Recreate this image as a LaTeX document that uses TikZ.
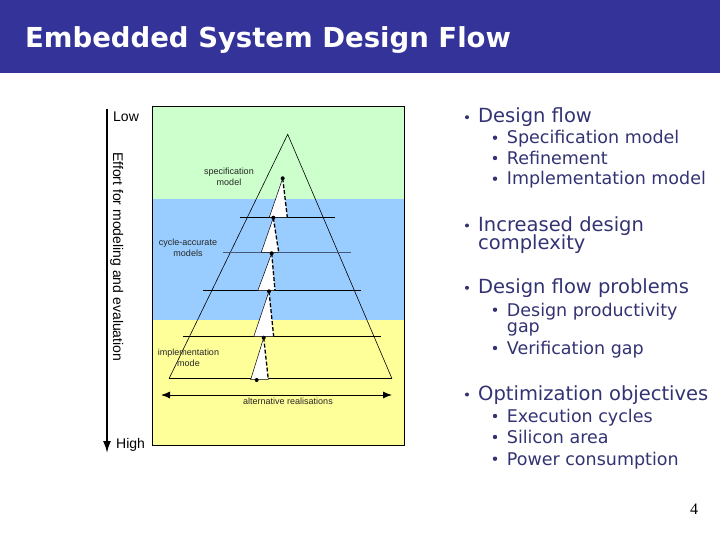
\documentclass[tikz,border=0pt]{standalone}
\usepackage{fontspec}
\setmainfont{DejaVu Sans}
\newfontfamily\arialf{Liberation Sans}
\newfontfamily\timesf{Liberation Serif}
\usetikzlibrary{arrows.meta}
\definecolor{hdr}{RGB}{51,51,153}
\definecolor{txt}{RGB}{51,51,115}
\definecolor{pgreen}{RGB}{204,255,204}
\definecolor{pblue}{RGB}{153,204,255}
\definecolor{pyellow}{RGB}{255,255,153}
\definecolor{lgray}{RGB}{70,90,120}
\begin{document}
\begin{tikzpicture}[x=1pt,y=-1pt,
  lone/.style={anchor=base west, inner sep=0pt, text=txt, font=\fontsize{19.5}{19}\selectfont},
  ltwo/.style={anchor=base west, inner sep=0pt, text=txt, font=\fontsize{17.5}{18}\selectfont},
  bone/.style={fill=txt, draw=none},
  small/.style={inner sep=0pt, font=\arialf\fontsize{9}{11}\selectfont, align=center, text=black!85},
  axislbl/.style={inner sep=0pt, font=\arialf\fontsize{14}{14}\selectfont},
  pyr/.style={draw=black, line width=0.6pt},
  hline/.style={draw=black, line width=0.9pt},
  tri/.style={fill=white, draw=none},
  tleft/.style={draw=black, line width=0.5pt},
  tright/.style={draw=black, line width=1.3pt, dash pattern=on 4pt off 2pt},
  dotf/.style={fill=black}
]
\useasboundingbox (0,0) rectangle (720,540);
\fill[white] (0,0) rectangle (720,540);
% header
\fill[hdr] (0,0) rectangle (720,73);
\node[anchor=base west, inner sep=0pt, text=white, font=\bfseries\fontsize{27.5}{30}\selectfont] (title) at (25,48) {Embedded System Design Flow};

% panels
\fill[pgreen] (152,107) rectangle (404,199.5);
\fill[pblue] (152,199.5) rectangle (404,320);
\fill[pyellow] (152,320) rectangle (404,445);
\draw[black, line width=1pt] (152,107) rectangle (404,445);

% pyramid
\coordinate (apex) at (287.7,134.3);
\coordinate (bl) at (169,378.7);
\coordinate (br) at (392,378.7);
\draw[pyr] (bl) -- (apex) -- (br);
\coordinate (h1a) at (240,217.3); \coordinate (h1b) at (335,217.3);
\coordinate (h2a) at (223,252.3); \coordinate (h2b) at (351,252.3);
\coordinate (h3a) at (203,290.7); \coordinate (h3b) at (361,290.7);
\coordinate (h4a) at (183,336.7); \coordinate (h4b) at (381,336.7);
\draw[hline] (h1a) -- (h1b);
\draw[draw=lgray, line width=0.6pt] (h2a) -- (h2b);
\draw[hline] (h3a) -- (h3b);
\draw[hline] (h4a) -- (h4b);
\draw[hline] (bl) -- (br);

% refinement triangles
\coordinate (d1) at (282.7,178.3);
\coordinate (d2) at (273.3,217.7);
\coordinate (d3) at (271.7,253.3);
\coordinate (d4) at (269,291.3);
\coordinate (d5) at (263.7,337.7);
\coordinate (d6) at (256.7,380);
\coordinate (t1l) at (269.3,217.3); \coordinate (t1r) at (287.3,217.3);
\coordinate (t2l) at (261.3,252.3); \coordinate (t2r) at (278.7,252.3);
\coordinate (t3l) at (257.7,290.7); \coordinate (t3r) at (275,290.7);
\coordinate (t4l) at (253.7,336.7); \coordinate (t4r) at (273.7,336.7);
\coordinate (t5l) at (250.7,379.5); \coordinate (t5r) at (268.3,379.5);
\foreach \d/\l/\r in {d1/t1l/t1r, d2/t2l/t2r, d3/t3l/t3r, d4/t4l/t4r, d5/t5l/t5r}{
  \fill[tri] (\d) -- (\l) -- (\r) -- cycle;
  \draw[tleft] (\d) -- (\l) -- (\r);
  \draw[tright] (\d) -- (\r);
}
\foreach \d in {d1,d2,d3,d4,d5,d6}{\fill[dotf] (\d) circle (2);}

% labels in pyramid
\node[small] (lspec) at (229,176.5) {specification\\model};
\node[small] (lcyc) at (188,247.5) {cycle-accurate\\models};
\node[small] (limp) at (188.5,357.5) {implementation\\mode};

% alternative realisations arrow
\coordinate (aL) at (161,395);
\coordinate (aR) at (392,395);
\draw[line width=1pt, {Latex[length=9pt,width=7pt]}-{Latex[length=9pt,width=7pt]}] (aL) -- (aR);
\node[small] (lalt) at (288,401) {alternative realisations};

% left axis
\coordinate (axT) at (107,109);
\coordinate (axB) at (107,453);
\draw[line width=1.8pt, -{Latex[length=12pt,width=8pt]}] (axT) -- (axB);
\node[axislbl, anchor=base west] (low) at (113,122) {Low};
\node[axislbl, anchor=base west] (high) at (116,448) {High};
\node[axislbl, anchor=base west, rotate=-90] (effort) at (113,152) {Effort for modeling and evaluation};

% right text
\foreach \y/\t in {122.7/Design flow, 231/Increased design, 293.3/Design flow problems, 400/Optimization objectives}{
  \node[lone] at (478,\y) {\t};
  \fill[bone] (467,\y-5.5) circle (2);
}
\node[lone] (cplx) at (478,249) {complexity};
\foreach \y/\t in {144/Specification model, 164.3/Refinement, 185/Implementation model, 316/Design productivity, 354.3/Verification gap, 422.3/Execution cycles, 443.3/Silicon area, 465/Power consumption}{
  \node[ltwo] at (506.7,\y) {\t};
  \fill[bone] (495,\y-6.3) circle (2.2);
}
\node[ltwo] (gap) at (506.7,332.7) {gap};

% page number
\node[anchor=base west, inner sep=0pt, font=\timesf\fontsize{16}{16}\selectfont] (pg) at (690,514) {4};
\end{tikzpicture}
\end{document}
